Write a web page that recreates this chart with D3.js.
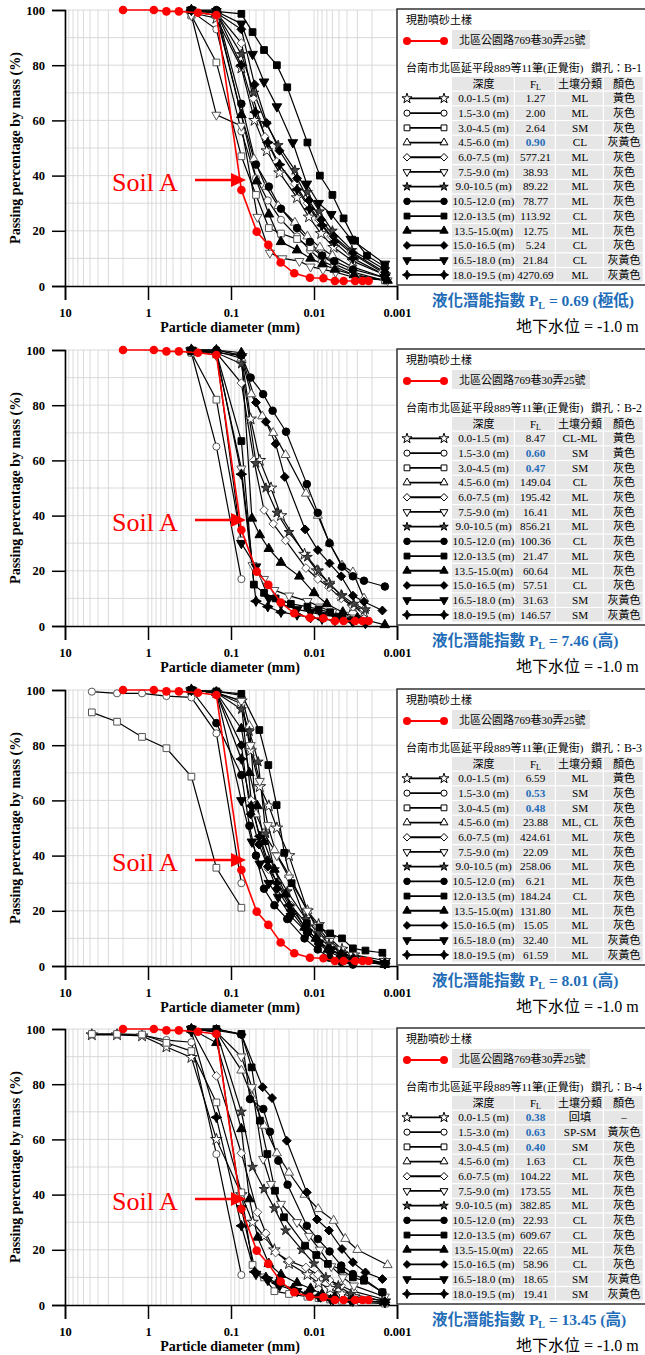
<!DOCTYPE html>
<html><head><meta charset="utf-8">
<script src="https://cdn.jsdelivr.net/npm/d3@7"></script>
<style>
body{margin:0;background:#fff}
svg text{font-family:"Liberation Serif","Times New Roman","Noto Sans CJK TC",serif}
.cjk{font-family:"Liberation Serif","Noto Sans CJK TC",serif}
</style>
</head><body><svg id="c" width="645" height="1355"></svg>
<script>
// ---------------- data ----------------
const xTicks = [10, 1, 0.1, 0.01, 0.001];
const xTickLabels = ["10", "1", "0.1", "0.01", "0.001"];
const yTicks = [0, 20, 40, 60, 80, 100];

const soilALabel = "北區公園路769巷30弄25號";
const soilA = [[2.0,100],[0.85,100],[0.6,99.5],[0.425,99.5],[0.25,99],[0.15,98.2],[0.075,34.8],[0.049,19.7],[0.0355,14.9],[0.0252,8.5],[0.0173,4.6],[0.0112,3.0],[0.0077,2.8],[0.0056,1.8],[0.0044,1.8],[0.0032,1.8],[0.0026,1.8],[0.0022,1.8]];

const depths = ["0.0-1.5 (m)","1.5-3.0 (m)","3.0-4.5 (m)","4.5-6.0 (m)","6.0-7.5 (m)","7.5-9.0 (m)","9.0-10.5 (m)","10.5-12.0 (m)","12.0-13.5 (m)","13.5-15.0(m)","15.0-16.5 (m)","16.5-18.0 (m)","18.0-19.5 (m)"];
const boreholes = ["B-1","B-2","B-3","B-4"];
const plValues = ["0.69 (極低)","7.46 (高)","8.01 (高)","13.45 (高)"];

const b1FL = ["1.27","2.00","2.64","0.90","577.21","38.93","89.22","78.77","113.92","12.75","5.24","21.84","4270.69"];
const b1Class = ["ML","ML","SM","CL","ML","ML","ML","ML","CL","ML","CL","CL","ML"];
const b1Color = ["黃色","灰色","灰色","灰黃色","灰色","灰色","灰色","灰色","灰色","灰色","灰色","灰黃色","灰黃色"];
const b1Curves = [
 [[0.3,99],[0.15,97],[0.075,79],[0.052,60],[0.037,49],[0.026,41],[0.016,32],[0.0115,25],[0.0082,19],[0.0058,14],[0.0034,9],[0.0014,4]],
 [[0.3,99.5],[0.15,93],[0.075,56],[0.05,39],[0.036,31],[0.025,24],[0.016,18],[0.0112,13],[0.008,9],[0.0056,7],[0.0033,4],[0.0014,2]],
 [[0.3,98],[0.15,81],[0.075,47],[0.05,33],[0.035,21],[0.025,19],[0.016,17],[0.011,14],[0.008,11],[0.0057,8],[0.0034,5],[0.0014,2]],
 [[0.3,99.5],[0.15,98],[0.075,62],[0.053,46],[0.038,36],[0.027,29],[0.017,23],[0.012,18],[0.0085,14],[0.006,11],[0.0035,7],[0.0014,3]],
 [[0.3,99.5],[0.15,99],[0.075,88],[0.054,68],[0.039,54],[0.028,45],[0.017,37],[0.012,30],[0.0087,24],[0.0062,18],[0.0036,12],[0.0015,5]],
 [[0.3,98],[0.15,62],[0.075,58],[0.048,25],[0.034,12],[0.024,10],[0.015,9],[0.011,7],[0.0078,6],[0.0055,5],[0.0032,3],[0.0013,2]],
 [[0.3,100],[0.15,99],[0.075,84],[0.053,70],[0.038,59],[0.027,51],[0.017,42],[0.012,34],[0.0086,27],[0.006,20],[0.0035,13],[0.0014,6]],
 [[0.3,100],[0.15,100],[0.075,66],[0.05,44],[0.035,36],[0.025,28],[0.016,21],[0.0112,16],[0.008,11],[0.0057,9],[0.0034,6],[0.0014,3]],
 [[0.3,100],[0.15,99.5],[0.075,98.6],[0.055,92],[0.04,85.5],[0.028,80],[0.021,72],[0.012,52],[0.0085,40],[0.006,33],[0.0044,24.5],[0.0032,16.4],[0.0023,11],[0.0014,7]],
 [[0.3,100],[0.15,99],[0.075,62],[0.049,38],[0.035,26],[0.025,16],[0.016,13],[0.011,10],[0.0079,8],[0.0056,6],[0.0033,4],[0.0013,2]],
 [[0.3,100],[0.15,99],[0.075,93],[0.052,73],[0.037,59],[0.026,49],[0.016,39],[0.0115,31],[0.0082,24],[0.0058,18],[0.0034,12],[0.0014,5]],
 [[0.3,100],[0.15,99.5],[0.075,95],[0.055,84],[0.04,74],[0.028,65],[0.018,52],[0.0122,37],[0.0088,30],[0.0062,26],[0.0036,17],[0.0014,8]],
 [[0.3,100],[0.15,99],[0.075,80],[0.051,63],[0.036,52],[0.026,44],[0.016,35],[0.0113,28],[0.008,22],[0.0057,16],[0.0034,10],[0.0014,4]]
];

const b2FL = ["8.47","0.60","0.47","149.04","195.42","16.41","856.21","100.36","21.47","60.64","57.51","31.63","146.57"];
const b2Class = ["CL-ML","SM","SM","CL","ML","ML","ML","CL","ML","ML","CL","SM","SM"];
const b2Color = ["黃色","黃色","灰色","灰色","灰色","灰色","灰色","灰色","灰色","灰色","灰色","灰黃色","灰黃色"];
const b2Curves = [
 [[0.3,100],[0.15,99],[0.075,98],[0.058,75],[0.045,60],[0.033,50],[0.025,40],[0.013,26],[0.0092,20],[0.0066,15.5],[0.0047,11],[0.0034,7],[0.0025,5]],
 [[0.3,99],[0.15,65],[0.075,17]],
 [[0.3,99],[0.15,82],[0.075,31]],
 [[0.3,100],[0.15,99.5],[0.075,97],[0.057,84],[0.042,76],[0.031,70],[0.022,62],[0.0125,48],[0.009,40],[0.0065,30],[0.0046,22],[0.0034,19.5],[0.0025,10]],
 [[0.3,100],[0.15,99],[0.075,88],[0.053,60],[0.04,42],[0.031,37],[0.022,31],[0.0125,21],[0.009,17],[0.0066,14],[0.0047,10],[0.0034,7],[0.0025,6]],
 [[0.3,100],[0.15,98],[0.075,57],[0.055,22],[0.04,17],[0.03,13],[0.02,11],[0.012,9],[0.0085,7],[0.006,5],[0.0043,4],[0.0032,3],[0.0024,2]],
 [[0.3,100],[0.15,99],[0.075,95],[0.05,59],[0.038,50],[0.028,41],[0.02,34],[0.012,25],[0.0088,20],[0.0064,15],[0.0046,11],[0.0033,8],[0.0024,6]],
 [[0.3,100],[0.15,100],[0.075,98],[0.058,90],[0.041,84],[0.0315,78],[0.0217,70.4],[0.0122,51.4],[0.009,41],[0.0065,30],[0.0046,21.5],[0.0034,18],[0.0025,16.4],[0.0014,14.3]],
 [[0.3,99.5],[0.15,99],[0.075,67],[0.053,15],[0.04,12],[0.029,10],[0.019,8],[0.012,7],[0.0088,6],[0.0064,5],[0.0046,3],[0.0033,2],[0.0024,1.6]],
 [[0.3,100],[0.15,100],[0.075,99],[0.056,39],[0.045,33],[0.035,28],[0.025,23],[0.015,18],[0.01,12],[0.007,8],[0.0045,5],[0.003,3],[0.0014,0.4]],
 [[0.3,100],[0.15,100],[0.075,98],[0.05,81],[0.038,74],[0.029,66],[0.0225,54],[0.0128,35],[0.009,27.5],[0.0065,22.7],[0.0047,18],[0.0034,11],[0.0025,8.8],[0.0015,5.6]],
 [[0.3,100],[0.15,99],[0.075,30],[0.05,21.5],[0.035,10],[0.025,8],[0.016,6],[0.011,5],[0.008,4],[0.0055,3.4],[0.0035,2],[0.0024,1]],
 [[0.3,100],[0.15,99],[0.075,55],[0.05,9],[0.036,7],[0.025,5],[0.016,4],[0.011,3],[0.008,2.5],[0.0056,2],[0.0034,1.5],[0.0024,1]]
];

const b3FL = ["6.59","0.53","0.48","23.88","424.61","22.09","258.06","6.21","184.24","131.80","15.05","32.40","61.59"];
const b3Class = ["ML","SM","SM","ML, CL","ML","ML","ML","ML","CL","ML","ML","ML","ML"];
const b3Color = ["黃色","灰色","灰色","灰色","灰色","灰色","灰色","灰色","灰色","灰色","灰色","灰黃色","灰黃色"];
const b3Curves = [
 [[0.3,100],[0.15,99],[0.075,96],[0.058,78],[0.045,65],[0.035,58],[0.028,50],[0.02,40],[0.012,20],[0.0088,15],[0.0064,10],[0.0046,6],[0.0033,4],[0.0014,2]],
 [[4.75,99.4],[2.36,98.8],[1.18,98.8],[0.6,97.8],[0.3,97.3],[0.15,84.3],[0.075,30]],
 [[4.75,91.9],[2.36,88.5],[1.18,83],[0.6,78.9],[0.3,68.6],[0.15,35.6],[0.075,21.1]],
 [[0.3,100],[0.15,99.5],[0.075,98],[0.06,87],[0.05,55],[0.04,48],[0.03,42],[0.02,33],[0.012,20],[0.009,13],[0.0065,8],[0.0047,5],[0.0034,3],[0.0014,1]],
 [[0.3,100],[0.15,99],[0.075,95],[0.057,60],[0.044,45],[0.035,35],[0.027,30],[0.019,22],[0.012,15],[0.0087,10],[0.0063,7],[0.0045,5],[0.0033,3],[0.0014,1]],
 [[0.3,100],[0.15,99],[0.075,96],[0.058,80],[0.045,67],[0.036,51],[0.028,40],[0.02,32],[0.012,20],[0.009,14],[0.0065,9],[0.0047,6],[0.0034,4],[0.0014,1]],
 [[0.3,100],[0.15,99],[0.075,93],[0.06,85],[0.047,74],[0.038,48],[0.03,35],[0.021,27],[0.0125,17],[0.009,12],[0.0066,8],[0.0047,5],[0.0034,3],[0.0014,1]],
 [[0.3,100],[0.15,88],[0.075,69.2],[0.06,50.8],[0.05,40],[0.04,28],[0.03,22],[0.021,17],[0.013,10],[0.009,6],[0.0065,3],[0.0047,1.5],[0.0034,0.5]],
 [[0.3,100],[0.15,99.5],[0.075,98.6],[0.0456,85.5],[0.0355,72.8],[0.0282,58.3],[0.0228,41],[0.0186,30],[0.0122,15.5],[0.0086,14],[0.0064,11.8],[0.0046,10],[0.0034,6.4],[0.0024,5.6],[0.0015,4.8]],
 [[0.3,100],[0.15,99],[0.075,86],[0.06,70],[0.048,58],[0.04,45],[0.03,35],[0.022,26],[0.013,14],[0.0095,10],[0.0068,6],[0.0048,4],[0.0035,2],[0.0014,0.5]],
 [[0.3,100],[0.15,99],[0.075,80],[0.058,55],[0.046,44],[0.036,36],[0.028,28],[0.019,20],[0.012,12],[0.0088,8],[0.0064,5],[0.0046,3],[0.0033,2],[0.0014,0.5]],
 [[0.3,100],[0.15,99],[0.075,60],[0.056,45],[0.045,37],[0.035,30],[0.027,25],[0.019,18],[0.012,12],[0.0087,8],[0.0063,6],[0.0046,4],[0.0033,2],[0.0014,1]],
 [[0.3,100],[0.15,99],[0.075,75],[0.057,58],[0.045,47],[0.036,38],[0.028,30],[0.02,22],[0.012,13],[0.0088,9],[0.0064,6],[0.0046,4],[0.0033,2.5],[0.0014,1]]
];

const b4FL = ["0.38","0.63","0.40","1.63","104.22","173.55","382.85","22.93","609.67","22.65","58.96","18.65","19.41"];
const b4Class = ["回填","SP-SM","SM","CL","ML","ML","ML","CL","CL","ML","CL","SM","SM"];
const b4Color = ["–","黃灰色","灰色","灰色","灰色","灰色","灰色","灰色","灰色","灰色","灰色","灰黃色","灰黃色"];
const b4Curves = [
 [[4.75,97.9],[2.36,97.9],[1.18,97.5],[0.6,93.5],[0.3,89.7],[0.15,60],[0.075,40],[0.055,30],[0.04,25],[0.03,20],[0.02,15],[0.012,11],[0.0088,8],[0.0064,6],[0.0046,4],[0.0033,3],[0.0014,1.5]],
 [[4.75,98],[2.36,98],[1.18,97.8],[0.6,96],[0.3,95.2],[0.15,54.7],[0.075,10.9]],
 [[4.75,98.2],[2.36,98.2],[1.18,98],[0.6,95],[0.3,92],[0.15,73.4],[0.075,40.8],[0.055,14.5],[0.04,10],[0.03,5],[0.02,4],[0.012,3],[0.0088,2.5],[0.0064,2],[0.0046,1.5],[0.0033,1],[0.0014,0.5]],
 [[0.3,100],[0.15,99],[0.075,85],[0.055,75],[0.04,65],[0.028,55],[0.02,48],[0.013,40],[0.0089,34.8],[0.0058,30.6],[0.0042,24],[0.003,20],[0.0013,14.5]],
 [[0.3,100],[0.15,83],[0.075,55],[0.048,33.6],[0.038,26],[0.029,19],[0.02,16],[0.0125,13.6],[0.009,11],[0.0065,9],[0.0047,7],[0.0034,5],[0.0014,2]],
 [[0.3,100],[0.15,99],[0.075,90],[0.056,78.9],[0.041,52.9],[0.033,43.8],[0.025,36.6],[0.016,30],[0.0115,25],[0.0085,20],[0.0062,14],[0.0045,10],[0.0033,7],[0.0014,3]],
 [[0.3,100],[0.15,99],[0.075,70],[0.055,50],[0.04,42],[0.03,35],[0.022,27],[0.014,20],[0.01,15],[0.0072,10],[0.0051,7],[0.0036,4],[0.0015,1.5]],
 [[0.3,100],[0.15,99.5],[0.075,98],[0.059,74.6],[0.0408,71],[0.0339,62.8],[0.0269,52.3],[0.0208,43.6],[0.0122,28.7],[0.009,23.9],[0.0065,19.4],[0.0047,14.3],[0.0034,11.2],[0.0025,9.4],[0.0015,4.6]],
 [[0.3,100],[0.15,100],[0.075,98.2],[0.0564,86.1],[0.0448,66.8],[0.0365,54.7],[0.0295,41.4],[0.023,31.8],[0.0128,21.5],[0.0094,18.1],[0.0068,14.9],[0.0047,12.8],[0.0034,10],[0.0025,8.8],[0.0015,4.6]],
 [[0.3,100],[0.15,95],[0.075,63.8],[0.06,38.4],[0.0478,24.5],[0.035,15],[0.025,11],[0.016,8],[0.011,6],[0.008,4],[0.0056,3],[0.0034,2],[0.0014,1]],
 [[0.3,100],[0.15,100],[0.075,98],[0.0416,78.9],[0.032,75],[0.0213,59.5],[0.0122,40.8],[0.0092,31],[0.0066,27],[0.0046,20.3],[0.0034,15.5],[0.0024,11.8],[0.0015,9.4]],
 [[0.3,100],[0.15,99],[0.075,35],[0.05,11.2],[0.036,9],[0.026,7],[0.016,5],[0.0115,4],[0.0083,3],[0.0059,2],[0.0034,1.5],[0.0014,1]],
 [[0.3,99],[0.15,68],[0.075,28.7],[0.052,12],[0.038,10],[0.028,8],[0.018,6],[0.012,4],[0.0088,3],[0.0063,2],[0.0036,1.5],[0.0014,1]]
];

// ---------------- drawing ----------------
const panels = [
  {fl:b1FL, cls:b1Class, col:b1Color, curves:b1Curves},
  {fl:b2FL, cls:b2Class, col:b2Color, curves:b2Curves},
  {fl:b3FL, cls:b3Class, col:b3Color, curves:b3Curves},
  {fl:b4FL, cls:b4Class, col:b4Color, curves:b4Curves}
];
const offsets = [0, 340, 680, 1019];
const BLUE = "#1f6db8";

const star4 = { draw(ctx, size){ const r = Math.sqrt(size)*0.75, q = r*0.35;
  ctx.moveTo(0,-r); ctx.lineTo(q,-q); ctx.lineTo(r,0); ctx.lineTo(q,q); ctx.lineTo(0,r); ctx.lineTo(-q,q); ctx.lineTo(-r,0); ctx.lineTo(-q,-q); ctx.closePath(); } };
const diamondW = { draw(ctx, size){ const r = Math.sqrt(size)*0.72;
  ctx.moveTo(0,-r); ctx.lineTo(r,0); ctx.lineTo(0,r); ctx.lineTo(-r,0); ctx.closePath(); } };
const triDown = { draw(ctx, size){ const s = Math.sqrt(size*4/Math.sqrt(3)), h = s*Math.sqrt(3)/2;
  ctx.moveTo(-s/2,-h/3); ctx.lineTo(s/2,-h/3); ctx.lineTo(0,2*h/3); ctx.closePath(); } };
const triUp = { draw(ctx, size){ const s = Math.sqrt(size*4/Math.sqrt(3)), h = s*Math.sqrt(3)/2;
  ctx.moveTo(-s/2,h/3); ctx.lineTo(s/2,h/3); ctx.lineTo(0,-2*h/3); ctx.closePath(); } };

const markerStyles = [
  {t:d3.symbolStar, s:42, fill:"#fff", stroke:"#222"},
  {t:d3.symbolCircle, s:40, fill:"#fff", stroke:"#555"},
  {t:d3.symbolSquare, s:45, fill:"#fff", stroke:"#555"},
  {t:triUp, s:36, fill:"#fff", stroke:"#555"},
  {t:diamondW, s:36, fill:"#fff", stroke:"#555"},
  {t:triDown, s:36, fill:"#fff", stroke:"#555"},
  {t:d3.symbolStar, s:30, fill:"#444", stroke:"#222"},
  {t:d3.symbolCircle, s:45, fill:"#000", stroke:"#000"},
  {t:d3.symbolSquare, s:45, fill:"#000", stroke:"#000"},
  {t:triUp, s:40, fill:"#000", stroke:"#000"},
  {t:diamondW, s:38, fill:"#000", stroke:"#000"},
  {t:triDown, s:40, fill:"#000", stroke:"#000"},
  {t:star4, s:50, fill:"#000", stroke:"#000"}
];

const svg = d3.select("#c");
const x = d3.scaleLog().domain([10, 0.001]).range([65, 397]);
const y = d3.scaleLinear().domain([0, 100]).range([286, 10]);
const line = d3.line().x(d => x(d[0])).y(d => y(d[1]));

const gridX = [];
for (let e = -3; e <= 0; e++) for (let k = 1; k <= 9; k++) gridX.push(k * Math.pow(10, e));
gridX.push(10);
const gridY = d3.range(10, 101, 10);

panels.forEach((p, pi) => {
  const g = svg.append("g").attr("transform", `translate(0,${offsets[pi]})`);

  g.append("g").selectAll("line").data(gridX).join("line")
    .attr("x1", d => x(d)).attr("x2", d => x(d)).attr("y1", y(0)).attr("y2", y(100))
    .attr("stroke", "#d6d6d6").attr("stroke-width", 0.9);
  g.append("g").selectAll("line").data(gridY).join("line")
    .attr("x1", x(10)).attr("x2", x(0.001)).attr("y1", d => y(d)).attr("y2", d => y(d))
    .attr("stroke", "#d6d6d6").attr("stroke-width", 0.9);

  const ya = g.append("g").attr("transform", `translate(65,0)`)
    .call(d3.axisLeft(y).tickValues(yTicks).tickSize(13).tickPadding(7));
  const xa = g.append("g").attr("transform", `translate(0,286)`)
    .call(d3.axisBottom(x).tickValues(xTicks).tickFormat((d, i) => xTickLabels[i]).tickSize(14).tickPadding(8));
  [ya, xa].forEach(a => {
    a.selectAll("path.domain").attr("stroke", "#000").attr("stroke-width", 1.6);
    a.selectAll(".tick line").attr("stroke", "#000").attr("stroke-width", 1.5);
    a.selectAll("text").attr("font-family", "Liberation Serif").attr("font-weight", "bold")
      .attr("font-size", 12.5).attr("fill", "#000");
  });

  g.append("text").attr("x", 230).attr("y", 332).attr("text-anchor", "middle")
    .attr("font-weight", "bold").attr("font-size", 14).text("Particle diameter (mm)");
  g.append("text").attr("transform", `translate(20,148) rotate(-90)`).attr("text-anchor", "middle")
    .attr("font-weight", "bold").attr("font-size", 14).text("Passing percentage by mass (%)");

  p.curves.forEach(c => {
    g.append("path").datum(c).attr("d", line).attr("fill", "none")
      .attr("stroke", "#000").attr("stroke-width", 1.2);
  });
  p.curves.forEach((c, si) => {
    const ms = markerStyles[si];
    g.append("g").selectAll("path").data(c).join("path")
      .attr("transform", d => `translate(${x(d[0])},${y(d[1])})`)
      .attr("d", d3.symbol().type(ms.t).size(ms.s))
      .attr("fill", ms.fill).attr("stroke", ms.stroke).attr("stroke-width", 1);
  });

  g.append("path").datum(soilA).attr("d", line).attr("fill", "none")
    .attr("stroke", "#ff0000").attr("stroke-width", 1.6);
  g.append("g").selectAll("circle").data(soilA).join("circle")
    .attr("cx", d => x(d[0])).attr("cy", d => y(d[1])).attr("r", 4.3).attr("fill", "#ff0000");

  g.append("text").attr("x", 112).attr("y", 191).attr("font-size", 26).attr("fill", "#ff0000").text("Soil A");
  g.append("line").attr("x1", 195).attr("x2", 234).attr("y1", 180).attr("y2", 180)
    .attr("stroke", "#ff0000").attr("stroke-width", 2.6);
  g.append("path").attr("d", "M231,173 L246,180 L231,187 Z").attr("fill", "#ff0000");

  const L = g.append("g");
  L.append("rect").attr("x", 397).attr("y", 9).attr("width", 252).attr("height", 276)
    .attr("fill", "#fff").attr("stroke", "#333").attr("stroke-width", 1.5);
  L.append("text").attr("class", "cjk").attr("x", 406).attr("y", 24).attr("font-size", 11).text("現勘噴砂土樣");
  L.append("line").attr("x1", 407).attr("x2", 444).attr("y1", 41).attr("y2", 41).attr("stroke", "#ff0000").attr("stroke-width", 2);
  [407, 444].forEach(cx => L.append("circle").attr("cx", cx).attr("cy", 41).attr("r", 4).attr("fill", "#ff0000"));
  L.append("rect").attr("x", 452).attr("y", 30).attr("width", 138).attr("height", 19).attr("fill", "#e6e6e6");
  L.append("text").attr("class", "cjk").attr("x", 459).attr("y", 44).attr("font-size", 11).text(soilALabel);
  L.append("text").attr("class", "cjk").attr("x", 406).attr("y", 72).attr("font-size", 11).text("台南市北區延平段889等11筆(正覺街)");
  const bh = L.append("text").attr("class", "cjk").attr("x", 591).attr("y", 72).attr("font-size", 11);
  bh.append("tspan").text("鑽孔：");
  bh.append("tspan").attr("font-size", 12).text(boreholes[pi]);

  const colX = [452, 515, 556, 604, 644];
  const top0 = 77, rowH = 14.7, cellH = 13.5;
  const headers = ["深度", "F", "土壤分類", "顏色"];
  headers.forEach((h, ci) => {
    L.append("rect").attr("x", colX[ci]).attr("y", top0).attr("width", colX[ci+1]-colX[ci]-1.2).attr("height", cellH).attr("fill", "#e6e6e6");
    const t = L.append("text").attr("class", "cjk").attr("x", (colX[ci]+colX[ci+1])/2).attr("y", top0+10.5)
      .attr("text-anchor", "middle").attr("font-size", 11).text(h);
    if (ci === 1) t.append("tspan").attr("font-size", 8).attr("dy", 2).text("L");
  });
  depths.forEach((dp, ri) => {
    const ty = top0 + (ri+1)*rowH;
    const cells = [dp, p.fl[ri], p.cls[ri], p.col[ri]];
    cells.forEach((v, ci) => {
      L.append("rect").attr("x", colX[ci]).attr("y", ty).attr("width", colX[ci+1]-colX[ci]-1.2).attr("height", cellH).attr("fill", "#e6e6e6");
      const low = ci === 1 && parseFloat(v) < 1;
      L.append("text").attr("class", "cjk").attr("x", (colX[ci]+colX[ci+1])/2).attr("y", ty+10.5)
        .attr("text-anchor", "middle").attr("font-size", ci === 3 ? 11 : 11.2)
        .attr("fill", low ? BLUE : "#000").attr("font-weight", low ? "bold" : "normal").text(v);
    });
    const cy = ty + cellH/2;
    L.append("line").attr("x1", 407).attr("x2", 444).attr("y1", cy).attr("y2", cy).attr("stroke", "#000").attr("stroke-width", 1.8);
    const ms = markerStyles[ri];
    [407, 444].forEach(cx => L.append("path").attr("transform", `translate(${cx},${cy})`)
      .attr("d", d3.symbol().type(ms.t).size(ms.s * 0.75)).attr("fill", ms.fill).attr("stroke", "#000").attr("stroke-width", 1));
  });

  const pl = g.append("text").attr("class", "cjk").attr("x", 432).attr("y", 306)
    .attr("font-size", 15.5).attr("font-weight", "bold").attr("fill", BLUE);
  pl.append("tspan").text("液化潛能指數 P");
  pl.append("tspan").attr("font-size", 10).attr("dy", 3).text("L");
  pl.append("tspan").attr("dy", -3).text(" = " + plValues[pi]);
  g.append("text").attr("class", "cjk").attr("x", 516).attr("y", 332).attr("font-size", 16).text("地下水位 = -1.0 m");
});
</script>
</body></html>
